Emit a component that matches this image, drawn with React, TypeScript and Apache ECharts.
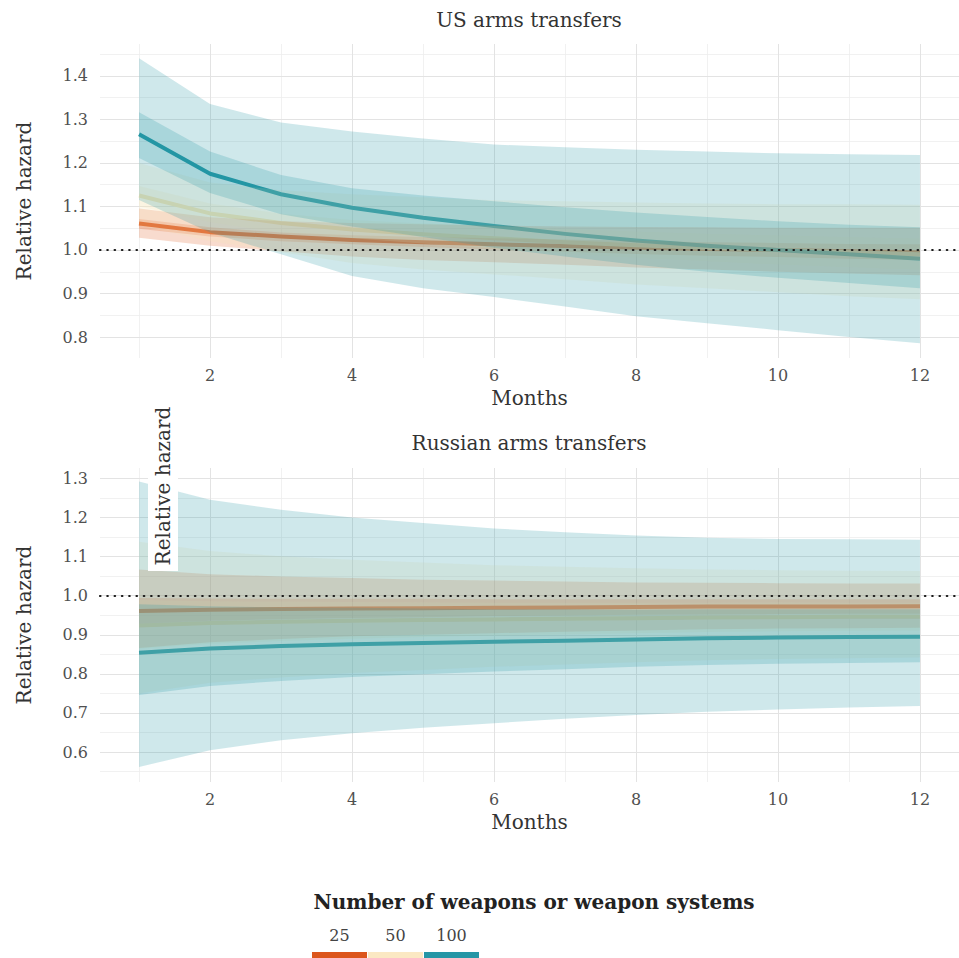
import React, { useEffect, useRef } from "react";
import * as echarts from "echarts";

const FONT = "'DejaVu Serif', Georgia, serif";

const months = [1, 2, 3, 4, 5, 6, 7, 8, 9, 10, 11, 12];
const groupLabels = ["25", "50", "100"];
const groupColors = ["#dd5a1f", "#f8e4b8", "#2396a4"];
const legendKeyColors = ["#dc561c", "#fbe8c3", "#2596a6"];

const panelTitles = ["US arms transfers", "Russian arms transfers"];
const xAxisTitle = "Months";
const yAxisTitle = "Relative hazard";
const legendTitle = "Number of weapons or weapon systems";
const referenceValue = 1.0;

const xLabelValues = [2, 4, 6, 8, 10, 12];
const xMajorGrid = [2, 4, 6, 8, 10, 12];
const xMinorGrid = [1, 3, 5, 7, 9, 11];
const usYLabelValues = [0.8, 0.9, 1.0, 1.1, 1.2, 1.3, 1.4];
const usYMinorGrid = [0.85, 0.95, 1.05, 1.15, 1.25, 1.35, 1.45];
const ruYLabelValues = [0.6, 0.7, 0.8, 0.9, 1.0, 1.1, 1.2, 1.3];
const ruYMinorGrid = [0.55, 0.65, 0.75, 0.85, 0.95, 1.05, 1.15, 1.25];

// US, 25 weapons
const us25Line = [1.061, 1.041, 1.031, 1.023, 1.018, 1.013, 1.009, 1.005, 1.002, 1.0, 0.997, 0.995];
const us25OuterHi = [1.095, 1.075, 1.066, 1.062, 1.059, 1.056, 1.054, 1.053, 1.052, 1.051, 1.051, 1.051];
const us25OuterLo = [1.028, 1.01, 0.997, 0.985, 0.977, 0.972, 0.966, 0.96, 0.955, 0.95, 0.946, 0.942];
const us25InnerHi = [1.071, 1.052, 1.04, 1.034, 1.03, 1.027, 1.024, 1.021, 1.018, 1.016, 1.014, 1.013];
const us25InnerLo = [1.049, 1.031, 1.02, 1.013, 1.007, 1.001, 0.996, 0.991, 0.987, 0.984, 0.98, 0.977];
// US, 50 weapons
const us50Line = [1.125, 1.084, 1.062, 1.047, 1.036, 1.027, 1.018, 1.011, 1.005, 1.0, 0.995, 0.99];
const us50OuterHi = [1.2, 1.155, 1.137, 1.128, 1.121, 1.114, 1.112, 1.109, 1.107, 1.105, 1.105, 1.104];
const us50OuterLo = [1.056, 1.02, 0.995, 0.97, 0.955, 0.944, 0.933, 0.921, 0.912, 0.903, 0.894, 0.887];
const us50InnerHi = [1.147, 1.107, 1.083, 1.069, 1.061, 1.055, 1.048, 1.042, 1.037, 1.033, 1.029, 1.026];
const us50InnerLo = [1.1, 1.064, 1.04, 1.027, 1.015, 1.003, 0.992, 0.983, 0.975, 0.967, 0.961, 0.955];
// US, 100 weapons
const us100Line = [1.266, 1.175, 1.128, 1.097, 1.074, 1.055, 1.037, 1.022, 1.01, 1.0, 0.99, 0.98];
const us100OuterHi = [1.44, 1.335, 1.293, 1.272, 1.256, 1.242, 1.236, 1.23, 1.226, 1.222, 1.22, 1.218];
const us100OuterLo = [1.115, 1.04, 0.99, 0.94, 0.912, 0.892, 0.87, 0.848, 0.832, 0.816, 0.8, 0.786];
const us100InnerHi = [1.316, 1.226, 1.172, 1.142, 1.125, 1.112, 1.098, 1.086, 1.076, 1.066, 1.058, 1.052];
const us100InnerLo = [1.211, 1.131, 1.082, 1.054, 1.03, 1.005, 0.985, 0.966, 0.95, 0.936, 0.924, 0.912];

// Russia, 25 weapons
const ru25Line = [0.961, 0.964, 0.966, 0.967, 0.968, 0.969, 0.97, 0.971, 0.972, 0.972, 0.972, 0.973];
const ru25OuterHi = [1.067, 1.055, 1.049, 1.045, 1.041, 1.039, 1.036, 1.034, 1.033, 1.032, 1.031, 1.031];
const ru25OuterLo = [0.866, 0.881, 0.889, 0.896, 0.9, 0.904, 0.908, 0.911, 0.914, 0.916, 0.917, 0.918];
const ru25InnerHi = [0.994, 0.993, 0.992, 0.992, 0.992, 0.991, 0.991, 0.991, 0.991, 0.991, 0.991, 0.991];
const ru25InnerLo = [0.929, 0.936, 0.94, 0.943, 0.945, 0.948, 0.949, 0.951, 0.952, 0.953, 0.954, 0.954];
// Russia, 50 weapons
const ru50Line = [0.924, 0.93, 0.933, 0.936, 0.938, 0.939, 0.941, 0.942, 0.944, 0.945, 0.946, 0.946];
const ru50OuterHi = [1.138, 1.114, 1.101, 1.092, 1.085, 1.078, 1.074, 1.07, 1.067, 1.065, 1.064, 1.063];
const ru50OuterLo = [0.75, 0.777, 0.791, 0.802, 0.81, 0.818, 0.824, 0.83, 0.835, 0.838, 0.84, 0.842];
const ru50InnerHi = [0.989, 0.986, 0.985, 0.984, 0.983, 0.982, 0.982, 0.982, 0.982, 0.983, 0.982, 0.982];
const ru50InnerLo = [0.864, 0.877, 0.884, 0.89, 0.894, 0.898, 0.901, 0.904, 0.907, 0.909, 0.91, 0.911];
// Russia, 100 weapons
const ru100Line = [0.854, 0.865, 0.871, 0.876, 0.879, 0.882, 0.885, 0.888, 0.891, 0.893, 0.894, 0.895];
const ru100OuterHi = [1.292, 1.245, 1.22, 1.2, 1.186, 1.172, 1.162, 1.154, 1.148, 1.145, 1.144, 1.143];
const ru100OuterLo = [0.562, 0.605, 0.63, 0.648, 0.662, 0.674, 0.685, 0.695, 0.703, 0.709, 0.714, 0.718];
const ru100InnerHi = [0.978, 0.973, 0.97, 0.969, 0.967, 0.965, 0.965, 0.964, 0.965, 0.965, 0.965, 0.965];
const ru100InnerLo = [0.746, 0.769, 0.782, 0.792, 0.799, 0.806, 0.812, 0.818, 0.823, 0.826, 0.828, 0.83];

const pts = (ys: number[]) => months.map((m, i) => [m, ys[i]]);

const BAND_OPACITY = 0.22;

function bandSeries(idx: number, lo: number[], hi: number[], color: string) {
  return {
    type: "custom",
    xAxisIndex: idx,
    yAxisIndex: idx,
    silent: true,
    clip: true,
    z: 3,
    data: months.map((m, i) => [m, lo[i], hi[i]]),
    encode: { x: 0, y: [1, 2] },
    renderItem: (params: any, api: any) => {
      if (params.dataIndex !== 0) return null;
      const top = months.map((m, i) => api.coord([m, hi[i]]));
      const bottom = months.map((m, i) => api.coord([m, lo[i]])).reverse();
      return {
        type: "polygon",
        shape: { points: top.concat(bottom) },
        style: { fill: color, opacity: BAND_OPACITY },
      };
    },
  };
}

function lineSeries(idx: number, name: string, ys: number[], color: string) {
  return {
    type: "line",
    name,
    xAxisIndex: idx,
    yAxisIndex: idx,
    data: pts(ys),
    symbol: "none",
    silent: true,
    lineStyle: { color, width: 4, cap: "butt", join: "round" },
    z: 2,
  };
}

function gridSeries(idx: number, yMajor: number[], yMinor: number[], anchor: number[]) {
  const major = { color: "#e3e3e3", width: 1, type: "solid" };
  const minor = { color: "#eeeeee", width: 0.8, type: "solid" };
  return {
    type: "line",
    xAxisIndex: idx,
    yAxisIndex: idx,
    data: pts(anchor),
    symbol: "none",
    silent: true,
    lineStyle: { opacity: 0, width: 0 },
    z: 0,
    markLine: {
      silent: true,
      symbol: ["none", "none"],
      label: { show: false },
      z: 1,
      data: [
        ...xMinorGrid.map((v) => ({ xAxis: v, lineStyle: minor })),
        ...yMinor.map((v) => ({ yAxis: v, lineStyle: minor })),
        ...xMajorGrid.map((v) => ({ xAxis: v, lineStyle: major })),
        ...yMajor.map((v) => ({ yAxis: v, lineStyle: major })),
      ],
    },
  };
}

function refSeries(idx: number, anchor: number[]) {
  return {
    type: "line",
    xAxisIndex: idx,
    yAxisIndex: idx,
    data: pts(anchor),
    symbol: "none",
    silent: true,
    lineStyle: { opacity: 0, width: 0 },
    z: 0,
    markLine: {
      silent: true,
      symbol: ["none", "none"],
      label: { show: false },
      z: 10,
      data: [
        {
          yAxis: referenceValue,
          lineStyle: { color: "#1a1a1a", width: 2.2, type: [0.5, 6.8], cap: "round" },
        },
      ],
    },
  };
}

function panel(
  idx: number,
  lines: number[][],
  outerLo: number[][],
  outerHi: number[][],
  innerLo: number[][],
  innerHi: number[][],
  yMajor: number[],
  yMinor: number[]
) {
  const s: any[] = [gridSeries(idx, yMajor, yMinor, lines[0])];
  lines.forEach((l, g) => s.push(lineSeries(idx, groupLabels[g], l, groupColors[g])));
  lines.forEach((_, g) => {
    s.push(bandSeries(idx, outerLo[g], outerHi[g], groupColors[g]));
    s.push(bandSeries(idx, innerLo[g], innerHi[g], groupColors[g]));
  });
  s.push(refSeries(idx, lines[0]));
  return s;
}

function xAxis(idx: number) {
  return {
    type: "value",
    gridIndex: idx,
    min: 0.45,
    max: 12.55,
    axisLine: { show: false },
    axisTick: { show: false },
    splitLine: { show: false },
    axisLabel: {
      customValues: xLabelValues,
      formatter: (v: number) => String(v),
      color: "#505050",
      fontSize: 16,
      fontFamily: FONT,
      margin: 9,
    },
    name: xAxisTitle,
    nameLocation: "middle",
    nameGap: 30,
    nameTextStyle: { fontSize: 20, color: "#333333", fontFamily: FONT },
  };
}

function yAxis(idx: number, min: number, max: number, labels: number[]) {
  return {
    type: "value",
    gridIndex: idx,
    min,
    max,
    axisLine: { show: false },
    axisTick: { show: false },
    splitLine: { show: false },
    axisLabel: {
      customValues: labels,
      formatter: (v: number) => v.toFixed(1),
      color: "#505050",
      fontSize: 16,
      fontFamily: FONT,
      margin: 12,
    },
    name: yAxisTitle,
    nameLocation: "middle",
    nameRotate: 90,
    nameGap: 66,
    nameTextStyle: { fontSize: 20, color: "#333333", fontFamily: FONT },
  };
}

export default function App() {
  const ref = useRef<HTMLDivElement>(null);
  useEffect(() => {
    if (!ref.current) return;
    const chart = echarts.init(ref.current, undefined, { renderer: "svg" });
    const keyX = [312, 368, 424];
    const legendGraphics: any[] = [];
    groupLabels.forEach((lab, g) => {
      legendGraphics.push({
        type: "rect",
        shape: { x: keyX[g], y: 952, width: 55, height: 6 },
        style: { fill: legendKeyColors[g] },
      });
      legendGraphics.push({
        type: "text",
        x: keyX[g] + 27.5,
        y: 935,
        style: {
          text: lab,
          fill: "#444444",
          fontSize: 16,
          fontFamily: FONT,
          textAlign: "center",
          textVerticalAlign: "middle",
        },
      });
    });
    const option: any = {
      animation: false,
      backgroundColor: "#ffffff",
      textStyle: { fontFamily: FONT },
      grid: [
        { left: 100, top: 44, width: 869, height: 314 },
        { left: 100, top: 468, width: 869, height: 314 },
      ],
      xAxis: [xAxis(0), xAxis(1)],
      yAxis: [
        yAxis(0, 0.752, 1.473, usYLabelValues),
        yAxis(1, 0.5235, 1.3265, ruYLabelValues),
      ],
      series: [
        ...panel(
          0,
          [us25Line, us50Line, us100Line],
          [us25OuterLo, us50OuterLo, us100OuterLo],
          [us25OuterHi, us50OuterHi, us100OuterHi],
          [us25InnerLo, us50InnerLo, us100InnerLo],
          [us25InnerHi, us50InnerHi, us100InnerHi],
          usYLabelValues,
          usYMinorGrid
        ),
        ...panel(
          1,
          [ru25Line, ru50Line, ru100Line],
          [ru25OuterLo, ru50OuterLo, ru100OuterLo],
          [ru25OuterHi, ru50OuterHi, ru100OuterHi],
          [ru25InnerLo, ru50InnerLo, ru100InnerLo],
          [ru25InnerHi, ru50InnerHi, ru100InnerHi],
          ruYLabelValues,
          ruYMinorGrid
        ),
      ],
      graphic: [
        {
          type: "text",
          x: 529,
          y: 20,
          style: {
            text: panelTitles[0],
            fill: "#333333",
            fontSize: 20,
            fontFamily: FONT,
            textAlign: "center",
            textVerticalAlign: "middle",
          },
        },
        {
          type: "text",
          x: 529,
          y: 443,
          style: {
            text: panelTitles[1],
            fill: "#333333",
            fontSize: 20,
            fontFamily: FONT,
            textAlign: "center",
            textVerticalAlign: "middle",
          },
        },
        {
          type: "rect",
          z: 100,
          shape: { x: 148, y: 404, width: 30, height: 167 },
          style: { fill: "#ffffff" },
        },
        {
          type: "text",
          z: 101,
          x: 163,
          y: 486,
          rotation: Math.PI / 2,
          style: {
            text: yAxisTitle,
            fill: "#333333",
            fontSize: 20,
            fontFamily: FONT,
            textAlign: "center",
            textVerticalAlign: "middle",
          },
        },
        {
          type: "text",
          x: 534,
          y: 902,
          style: {
            text: legendTitle,
            fill: "#222222",
            fontSize: 20,
            fontWeight: "bold",
            fontFamily: FONT,
            textAlign: "center",
            textVerticalAlign: "middle",
          },
        },
        ...legendGraphics,
      ],
    };
    chart.setOption(option);
    return () => chart.dispose();
  }, []);
  return (
    <div
      ref={ref}
      style={{ position: "fixed", left: 0, top: 0, width: 959, height: 958, background: "#fff" }}
    />
  );
}
